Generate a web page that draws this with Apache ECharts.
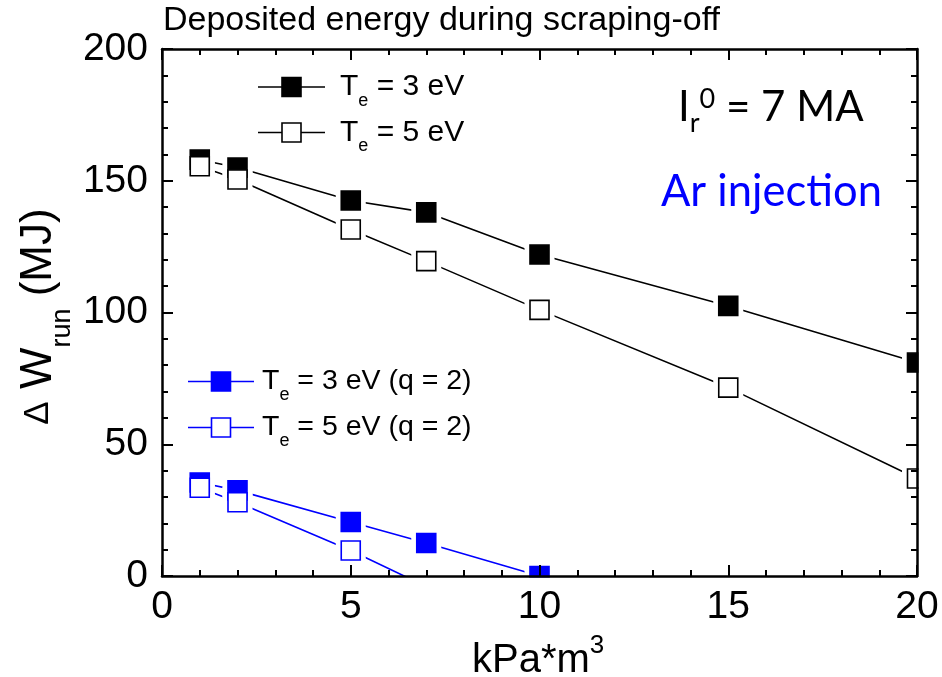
<!DOCTYPE html>
<html>
<head>
<meta charset="utf-8">
<script src="https://cdn.jsdelivr.net/npm/echarts@6/dist/echarts.min.js"></script>
<style>
  html, body { margin: 0; padding: 0; background: #fff; }
  #chart { width: 942px; height: 677px; }
</style>
</head>
<body>
<div id="chart"></div>
<script>
// Injected quantity (kPa*m^3) and deposited runaway energy (MJ)
const pressure = [1, 2, 5, 7, 10, 15, 20];
const wTe3 = [158, 155, 142.5, 138, 122, 102.5, 81];
const wTe5 = [155.5, 150.5, 131.5, 119.5, 101, 71.5, 37];

const pressureQ2Te3 = [1, 2, 5, 7, 10];
const wTe3Q2 = [35.5, 32.5, 20.5, 12.5, 0];
const pressureQ2Te5 = [1, 2, 5, 7];
const wTe5Q2 = [33.5, 28, 9.7, -4];

const xRange = [0, 20], xStep = 5;
const yRange = [0, 200], yStep = 50;

const BLACK = '#000000';
const BLUE = '#0000ff';
const ARIAL = 'Liberation Sans, Arial, sans-serif';
const SANS2 = 'Lato, Open Sans, sans-serif';

const pairs = (xs, ys) => xs.map((x, i) => [x, ys[i]]);

// connecting line (clipped to the plot frame)
function lineSeries(xs, ys, color) {
  return {
    type: 'line', data: pairs(xs, ys), symbol: 'none', clip: true,
    lineStyle: { color: color, width: 1.6, opacity: 1 }, z: 2, silent: true, animation: false
  };
}
// white square behind each marker, leaving a small gap in the lines
function gapSeries(xs, ys) {
  return {
    type: 'scatter', data: pairs(xs, ys), symbol: 'rect', symbolSize: 30, clip: true,
    itemStyle: { color: '#ffffff', opacity: 1 }, z: 3, silent: true, animation: false
  };
}
function markerSeries(xs, ys, color, filled) {
  return {
    type: 'scatter', data: pairs(xs, ys), symbol: 'rect', symbolSize: 19, clip: true,
    itemStyle: { color: filled ? color : '#ffffff', borderColor: color, borderWidth: 1.6, opacity: 1 },
    z: 4, silent: true, animation: false
  };
}

// text measuring for runs with sub/superscripts
const mctx = document.createElement('canvas').getContext('2d');
function tw(t, size, fam) { mctx.font = size + 'px ' + fam; return mctx.measureText(t).width; }
function runWidth(parts, fam) { return parts.reduce((s, p) => s + tw(p.t, p.s, fam), 0); }
function textRun(x, y, parts, fam, color) {
  let cx = x;
  return parts.map(p => {
    const el = {
      type: 'text', x: cx, y: y + (p.dy || 0), z: 40, silent: true,
      style: {
        text: p.t, fontSize: p.s, fontFamily: fam, fill: p.c || color,
        align: 'left', verticalAlign: 'middle', textAlign: 'left', textVerticalAlign: 'middle'
      }
    };
    cx += tw(p.t, p.s, fam);
    return el;
  });
}

function legendItem(x1, x2, cy, color, filled, label, textX, size) {
  const mx = (x1 + x2) / 2;
  return [
    { type: 'line', z: 40, silent: true, shape: { x1: x1, y1: cy, x2: x2, y2: cy }, style: { stroke: color, lineWidth: 1.6 } },
    { type: 'rect', z: 41, silent: true, shape: { x: mx - 9.5, y: cy - 9.5, width: 19, height: 19 },
      style: { fill: filled ? color : '#ffffff', stroke: color, lineWidth: 1.6 } }
  ].concat(textRun(textX, cy, [
    { t: 'T', s: size }, { t: 'e', s: 18, dy: 14 }, { t: label, s: size }
  ], ARIAL, BLACK));
}

const yTitleParts = [
  { t: '\u0394', s: 35 }, { t: ' W', s: 44 }, { t: 'run', s: 27, dy: 24 }, { t: ' (MJ)', s: 44 }
];
const yTitleLen = runWidth(yTitleParts, ARIAL);

const axisCommon = {
  type: 'value', z: 20,
  axisLine: { onZero: false, lineStyle: { color: BLACK, width: 2.5 } },
  axisTick: { inside: true, length: 11, lineStyle: { color: BLACK, width: 2 } },
  minorTick: { show: true, splitNumber: 5, length: 6, lineStyle: { color: BLACK, width: 2 } },
  splitLine: { show: false }
};
const tickLabel = { fontSize: 39, color: BLACK, fontFamily: ARIAL };

const option = {
  backgroundColor: '#ffffff',
  animation: false,
  grid: { left: 162, right: 25, top: 49, bottom: 101 },
  xAxis: [
    Object.assign({}, axisCommon, { position: 'bottom', min: xRange[0], max: xRange[1], interval: xStep,
      axisLabel: Object.assign({ margin: 12 }, tickLabel) }),
    Object.assign({}, axisCommon, { position: 'top', min: xRange[0], max: xRange[1], interval: xStep,
      axisLabel: { show: false } })
  ],
  yAxis: [
    Object.assign({}, axisCommon, { position: 'left', min: yRange[0], max: yRange[1], interval: yStep,
      axisLabel: Object.assign({ margin: 14 }, tickLabel) }),
    Object.assign({}, axisCommon, { position: 'right', min: yRange[0], max: yRange[1], interval: yStep,
      axisLabel: { show: false } })
  ],
  series: [
    lineSeries(pressure, wTe3, BLACK),
    lineSeries(pressure, wTe5, BLACK),
    lineSeries(pressureQ2Te3, wTe3Q2, BLUE),
    lineSeries(pressureQ2Te5, wTe5Q2, BLUE),
    gapSeries(pressure, wTe3),
    gapSeries(pressure, wTe5),
    gapSeries(pressureQ2Te3, wTe3Q2),
    gapSeries(pressureQ2Te5, wTe5Q2),
    markerSeries(pressure, wTe3, BLACK, true),
    markerSeries(pressure, wTe5, BLACK, false),
    markerSeries(pressureQ2Te3, wTe3Q2, BLUE, true),
    markerSeries(pressureQ2Te5, wTe5Q2, BLUE, false)
  ],
  graphic: [
    // mask marks that spill past the right and bottom frame edges
    { type: 'rect', z: 10, silent: true, shape: { x: 918.5, y: 0, width: 30, height: 677 }, style: { fill: '#ffffff' } },
    { type: 'rect', z: 10, silent: true, shape: { x: 0, y: 577.5, width: 942, height: 100 }, style: { fill: '#ffffff' } }
  ]
  .concat(textRun(163, 21, [{ t: 'Deposited energy during scraping-off', s: 34 }], ARIAL, BLACK))
  .concat(legendItem(258, 325, 87, BLACK, true, ' = 3 eV', 340, 30))
  .concat(legendItem(258, 325, 132.5, BLACK, false, ' = 5 eV', 340, 30))
  .concat(legendItem(188, 254, 381.5, BLUE, true, ' = 3 eV (q = 2)', 262, 28.5))
  .concat(legendItem(188, 254, 427.5, BLUE, false, ' = 5 eV (q = 2)', 262, 28.5))
  .concat(textRun(678, 107.5, [
    { t: 'I', s: 42 }, { t: 'r', s: 27, dy: 16 }, { t: '0', s: 27, dy: -8 }, { t: ' = 7 MA', s: 42 }
  ], SANS2, BLACK))
  .concat(textRun(661, 192, [{ t: 'Ar injection', s: 43.5 }], SANS2, BLUE))
  .concat(textRun(472, 661, [{ t: 'kPa*m', s: 40 }, { t: '3', s: 26, dy: -15 }], ARIAL, BLACK))
  .concat([{
    type: 'group', x: 38.5, y: 316.5 + yTitleLen / 2, rotation: Math.PI / 2,
    children: textRun(0, 0, yTitleParts, ARIAL, BLACK)
  }])
};

const chart = echarts.init(document.getElementById('chart'), null, { renderer: 'canvas' });
chart.setOption(option);
</script>
</body>
</html>
